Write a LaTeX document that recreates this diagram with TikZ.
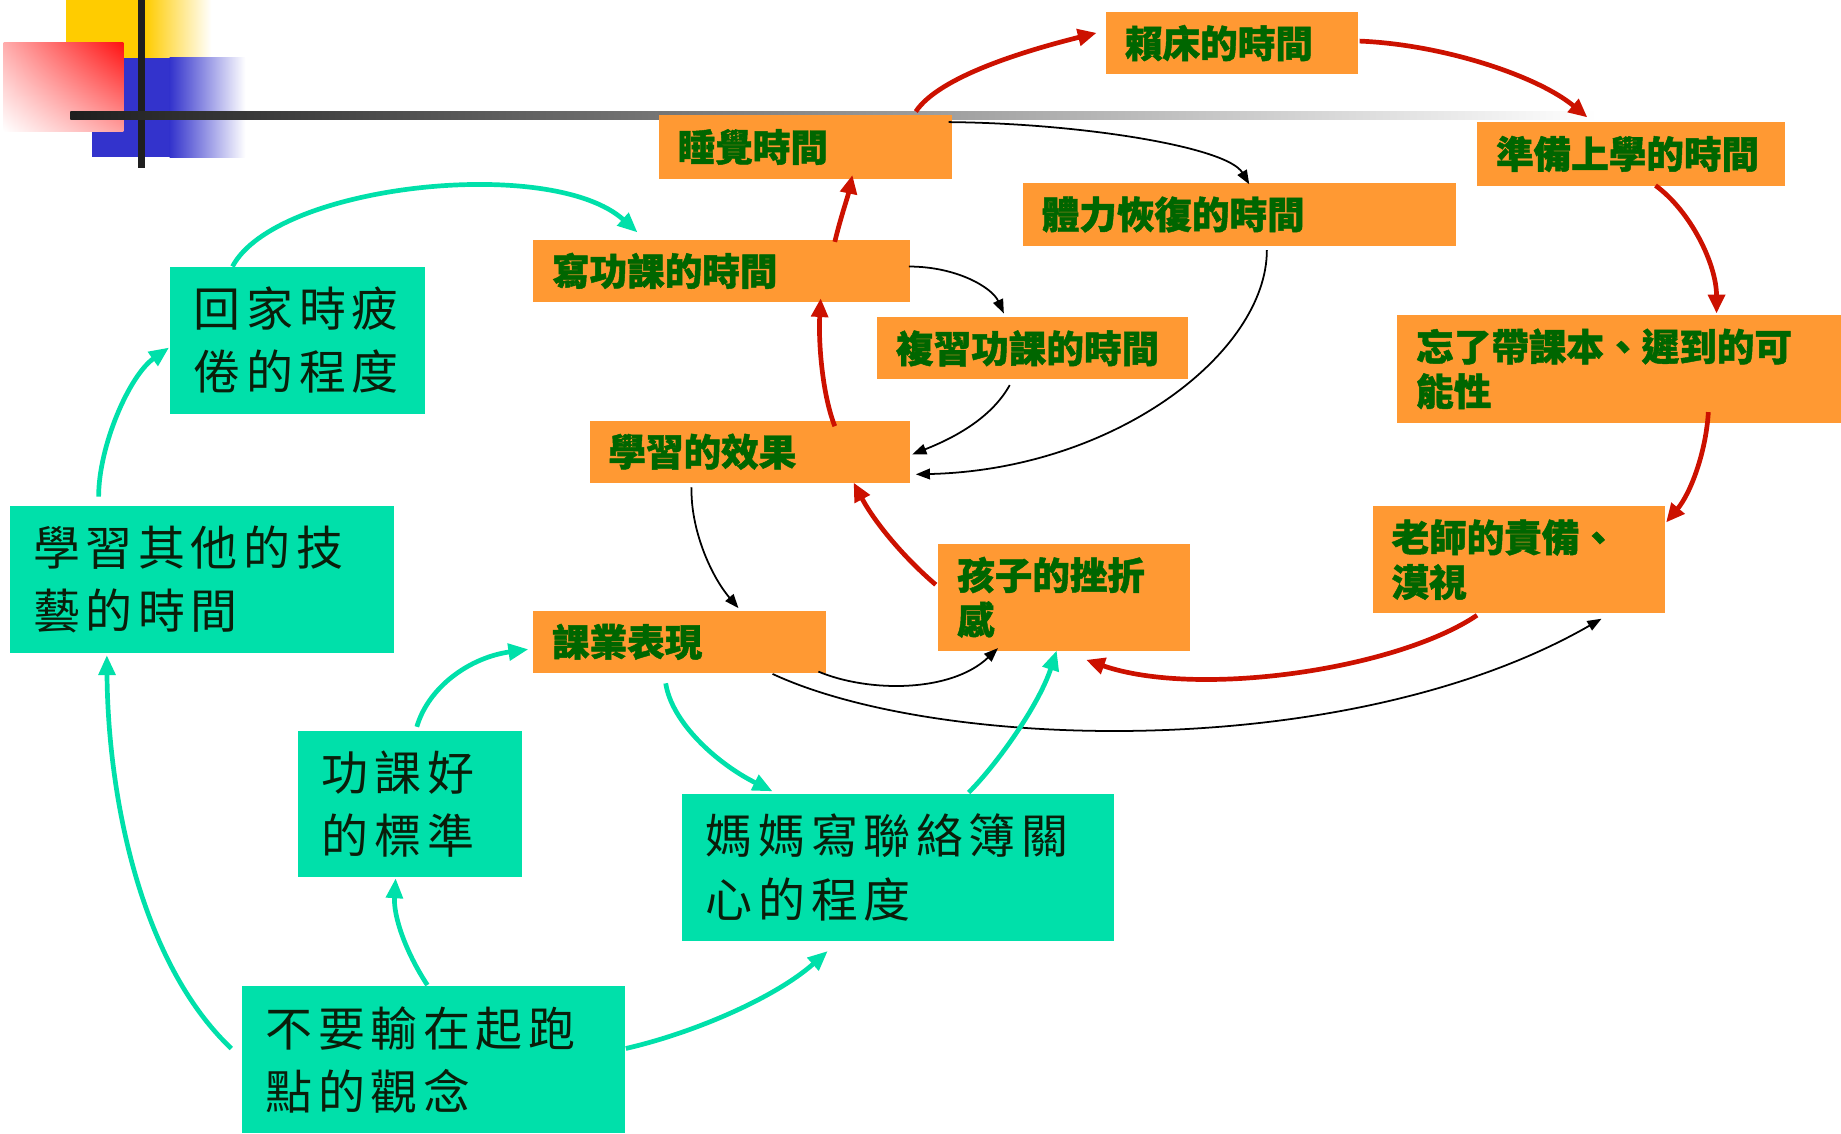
\documentclass[tikz,border=0pt]{standalone}
\usepackage{fontspec}
\usetikzlibrary{arrows.meta,calc,shadings}
\newfontfamily\cjkb{Noto Sans CJK TC}[BoldFeatures={FakeBold=1.2}]
\newfontfamily\cjkl{Noto Sans CJK TC}[LetterSpace=12]
\definecolor{orbox}{RGB}{255,153,51}
\definecolor{grbox}{RGB}{0,224,170}
\definecolor{ortext}{RGB}{0,102,0}
\definecolor{grtext}{RGB}{10,30,10}
\definecolor{redarr}{RGB}{204,17,0}
\definecolor{yel}{RGB}{255,204,0}
\definecolor{blu}{RGB}{51,51,204}
\definecolor{redsq}{RGB}{255,17,17}
\tikzset{
  obox/.style={fill=orbox, anchor=north west, inner xsep=16pt, inner ysep=0pt, align=left,
    font=\cjkb\bfseries\fontsize{32}{38}\selectfont, text=ortext},
  gbox/.style={fill=grbox, anchor=north west, inner xsep=20pt, inner ysep=0pt, align=left,
    font=\cjkl\fontsize{40}{54}\selectfont, text=grtext},
  rarr/.style={draw=redarr, line width=4pt, -{Triangle[length=16pt,width=14pt]}},
  garr/.style={draw=grbox, line width=4pt, -{Triangle[length=17pt,width=14pt]}},
  barr/.style={draw=black, line width=1.5pt, -{Triangle[length=12pt,width=9pt]}}
}
\begin{document}
\begin{tikzpicture}[x=1pt,y=-1pt]
\useasboundingbox (0,0) rectangle (1568,965);
% decoration
\fill[yel] (56,0) rectangle (124,49);
\shade[left color=yel, right color=white] (123.5,0) rectangle (180,49);
\fill[blu] (78,49) rectangle (145,134);
\shade[left color=blu, right color=white] (144.5,49) rectangle (209,134);
\shade[upper left=redsq!35, upper right=redsq, lower left=white, lower right=redsq!40] (3,36) rectangle (105,112);
\fill[black!88] (117.5,0) rectangle (123.5,143);
\shade[left color=black!88, right color=white] (60,95) rectangle (1360,101.5);
% orange nodes
\node[obox, text width=182pt, minimum height=53pt] (laic) at (942,10) {賴床的時間};
\node[obox, text width=218pt, minimum height=54pt] (sleep) at (561,98) {睡覺時間};
\node[obox, text width=230pt, minimum height=54pt] (prep) at (1258,104) {準備上學的時間};
\node[obox, text width=337pt, minimum height=53pt] (tili) at (871,156) {體力恢復的時間};
\node[obox, text width=289pt, minimum height=53pt] (write) at (454,204) {寫功課的時間};
\node[obox, text width=233pt, minimum height=53pt] (review) at (747,270) {複習功課的時間};
\node[obox, text width=346pt, minimum height=92pt] (forget) at (1190,268) {忘了帶課本、遲到的可\\能性};
\node[obox, text width=241pt, minimum height=53pt] (learn) at (502,358) {學習的效果};
\node[obox, text width=217pt, minimum height=91pt] (teacher) at (1169,431) {老師的責備、\\漠視};
\node[obox, text width=182pt, minimum height=91pt] (frust) at (799,463) {孩子的挫折\\感};
\node[obox, text width=217pt, minimum height=53pt] (perf) at (454,520) {課業表現};
% green nodes
\node[gbox, text width=177pt, minimum height=125pt] (home) at (145,227) {回家時疲\\倦的程度};
\node[gbox, text width=287pt, minimum height=125pt] (other) at (8,431) {學習其他的技\\藝的時間};
\node[gbox, text width=150pt, minimum height=125pt] (std) at (254,622) {功課好\\的標準};
\node[gbox, text width=328pt, minimum height=125pt] (mom) at (581,676) {媽媽寫聯絡簿關\\心的程度};
\node[gbox, text width=286pt, minimum height=125pt] (notlose) at (206,840) {不要輸在起跑\\點的觀念};
% red arrows
\draw[rarr] ($(sleep.north west)+(219,-3)$) .. controls +(20,-30) and +(-60,15) .. ($(laic.north west)+(-8,18)$);
\draw[rarr] ($(laic.north west)+(216,25)$) .. controls +(72,3) and +(-42,-35) .. ($(prep.north west)+(94,-4)$);
\draw[rarr] ($(prep.north west)+(152,54)$) .. controls +(30,22) and +(0,-42) .. ($(forget.north west)+(272,-1)$);
\draw[rarr] ($(forget.north west)+(265,83)$) .. controls +(-2,34) and +(21,-25) .. ($(teacher.north west)+(250,14)$);
\draw[rarr] ($(teacher.north west)+(89,93)$) .. controls +(-68,46) and +(95,33) .. ($(frust.north west)+(126,99)$);
\draw[rarr] ($(frust.north west)+(-2,35)$) .. controls +(-27,-23) and +(18,34) .. ($(learn.north west)+(225,53)$);
\draw[rarr] ($(learn.north west)+(209,5)$) .. controls +(-11,-28) and +(-2,36) .. ($(write.north west)+(245,50)$);
\draw[rarr] ($(write.north west)+(257,2)$) .. controls +(5,-21) and +(-4,19) .. ($(sleep.north west)+(165,51)$);
% black arrows
\draw[barr] ($(sleep.north west)+(247,6)$) .. controls +(112,1) and +(-19,-32) .. ($(tili.north west)+(193,1)$);
\draw[barr] ($(write.north west)+(320,23)$) .. controls +(41,0) and +(-10,-22) .. ($(review.north west)+(108,-3)$);
\draw[barr] ($(review.north west)+(113,58)$) .. controls +(-15,27) and +(38,-15) .. ($(learn.north west)+(275,29)$);
\draw[barr] ($(tili.north west)+(208,57)$) .. controls +(0,87) and +(170,-4) .. ($(learn.north west)+(278,46)$);
\draw[barr] ($(learn.north west)+(87,57)$) .. controls +(-1,35) and +(-24,-28) .. ($(perf.north west)+(175,-2)$);
\draw[barr] ($(perf.north west)+(243,52)$) .. controls +(43,18) and +(-40,38) .. ($(frust.north west)+(51,89)$);
\draw[barr] ($(perf.north west)+(204,54)$) .. controls +(142,66) and +(-214,123) .. ($(teacher.north west)+(195,96)$);
% green arrows
\draw[garr] ($(home.north west)+(53,0)$) .. controls +(37,-70) and +(-73,-66) .. ($(write.north west)+(89,-6)$);
\draw[garr] ($(other.north west)+(76,-8)$) .. controls +(0,-43) and +(-34,24) .. ($(home.north west)+(-1,69)$);
\draw[garr] ($(notlose.north west)+(-9,53)$) .. controls +(-77,-73) and +(1,122) .. ($(other.north west)+(83,127)$);
\draw[garr] ($(notlose.north west)+(158,-1)$) .. controls +(-19,-29) and +(-2,32) .. ($(std.north west)+(83,126)$);
\draw[garr] ($(notlose.north west)+(327,53)$) .. controls +(57,-13) and +(-45,40) .. ($(mom.north west)+(124,134)$);
\draw[garr] ($(std.north west)+(101,-3)$) .. controls +(10,-34) and +(-50,7) .. ($(perf.north west)+(-4,33)$);
\draw[garr] ($(perf.north west)+(113,62)$) .. controls +(5,33) and +(-48,-24) .. ($(mom.north west)+(77,-2)$);
\draw[garr] ($(mom.north west)+(244,-1)$) .. controls +(25,-25) and +(-15,46) .. ($(frust.north west)+(101,91)$);
\end{tikzpicture}
\end{document}
